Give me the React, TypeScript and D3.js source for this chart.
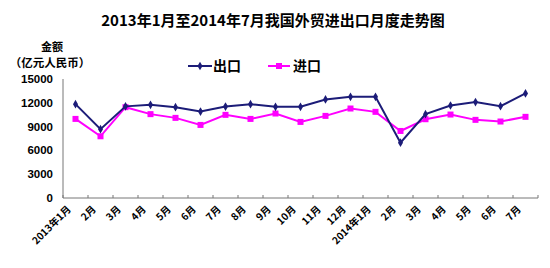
import React from "react";
import * as d3 from "d3";

const categories = ["2013年1月","2月","3月","4月","5月","6月","7月","8月","9月","10月","11月","12月","2014年1月","2月","3月","4月","5月","6月","7月"];
const exportsData = [11830,8670,11550,11750,11450,10900,11530,11830,11500,11500,12420,12760,12760,6970,10570,11660,12090,11580,13180];
const importsData = [9970,7780,11450,10570,10100,9210,10480,9970,10650,9590,10350,11280,10860,8450,9930,10520,9850,9640,10230];
const yTicks = [0,3000,6000,9000,12000,15000];
const title = "2013年1月至2014年7月我国外贸进出口月度走势图";
const seriesNames = ["出口","进口"];
const colors = ["#1c1c78","#ff00ff"];

const W = 550, H = 268;
const left = 63, right = 538, top = 79, bottom = 198;
const cjk = "'Noto Sans CJK SC', sans-serif";
const num = "'Liberation Sans', Arial, sans-serif";

export default function App() {
  const x = d3.scaleBand<string>().domain(categories.map((c, i) => i + "")).range([left, right]);
  const y = d3.scaleLinear().domain([0, 15000]).range([bottom, top]);
  const cx = (i: number) => (x(i + "") as number) + x.bandwidth() / 2;
  const line = d3.line<number>().x((_, i) => cx(i)).y(d => y(d));
  const boundaries = d3.range(categories.length + 1).map(i => left + i * x.bandwidth());
  const diamond = d3.symbol().type(d3.symbolDiamond).size(22)() as string;
  return (
    <svg width={W} height={H} style={{ position: "absolute", left: 0, top: 0, background: "#fff" }}>
      <text x={273} y={26} textAnchor="middle" fontFamily={cjk} fontWeight="bold" fontSize={15} fill="#000">{title}</text>
      <text x={52} y={51} textAnchor="middle" fontFamily={cjk} fontWeight="bold" fontSize={11}>金额</text>
      <text x={50} y={67} textAnchor="middle" fontFamily={cjk} fontWeight="bold" fontSize={11.5}>（亿元人民币）</text>
      {/* legend */}
      <g>
        <line x1={188} x2={212} y1={66} y2={66} stroke={colors[0]} strokeWidth={2} />
        <path d={diamond} transform="translate(200,66)" fill={colors[0]} />
        <text x={213} y={71} fontFamily={cjk} fontWeight="bold" fontSize={14}>{seriesNames[0]}</text>
        <line x1={268} x2={290} y1={66} y2={66} stroke={colors[1]} strokeWidth={2} />
        <rect x={276} y={63} width={6} height={6} fill={colors[1]} />
        <text x={293} y={71} fontFamily={cjk} fontWeight="bold" fontSize={14}>{seriesNames[1]}</text>
      </g>
      {/* y axis */}
      <line x1={left} x2={left} y1={top} y2={bottom} stroke="#777" strokeWidth={1} />
      {yTicks.map(t => (
        <text key={t} x={53} y={y(t) + 4} textAnchor="end" fontFamily={num} fontWeight="bold" fontSize={11.5}>{t}</text>
      ))}
      {/* x axis */}
      <line x1={left} x2={right} y1={bottom} y2={bottom} stroke="#777" strokeWidth={1} />
      {boundaries.map((b, i) => (
        <line key={i} x1={b} x2={b} y1={bottom} y2={bottom - 3} stroke="#777" />
      ))}
      {categories.map((c, i) => (
        <text key={i} transform={`translate(${cx(i) - 4},${bottom + 12}) rotate(-45)`} textAnchor="end" fontFamily={cjk} fontWeight="bold" fontSize={10}>{c}</text>
      ))}
      {/* lines */}
      <path d={line(importsData) as string} fill="none" stroke={colors[1]} strokeWidth={2} />
      {importsData.map((v, i) => (
        <rect key={i} x={cx(i) - 3} y={y(v) - 3} width={6} height={6} fill={colors[1]} />
      ))}
      <path d={line(exportsData) as string} fill="none" stroke={colors[0]} strokeWidth={2} />
      {exportsData.map((v, i) => (
        <path key={i} d={diamond} transform={`translate(${cx(i)},${y(v)})`} fill={colors[0]} />
      ))}
    </svg>
  );
}
